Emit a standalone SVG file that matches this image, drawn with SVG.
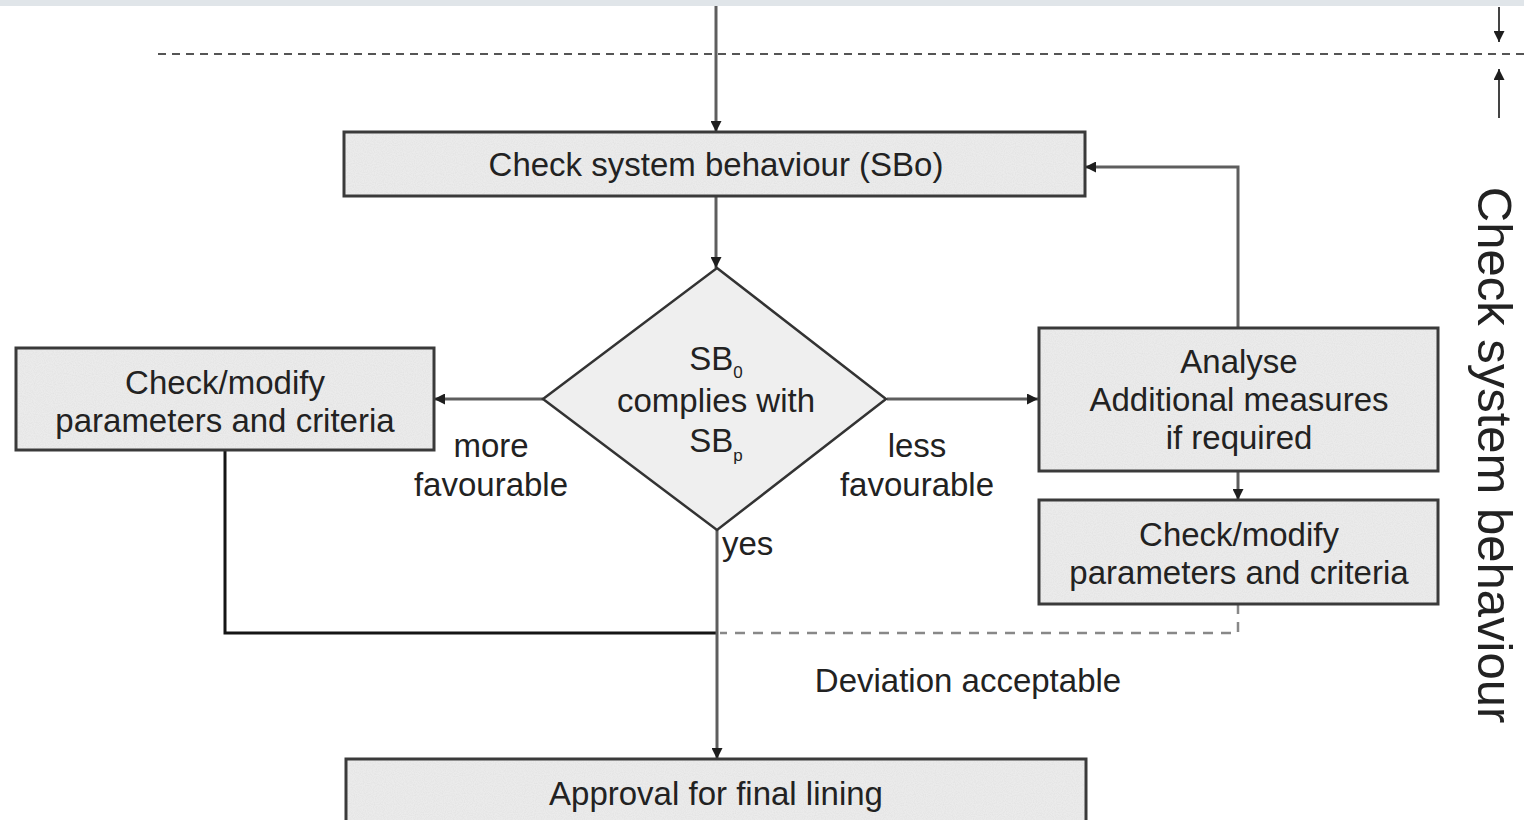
<svg xmlns="http://www.w3.org/2000/svg" width="1524" height="820" viewBox="0 0 1524 820">
  <style>
    .box { fill: #ebebeb; stroke: #3a3a3a; stroke-width: 3; }
    .dia { fill: #efefef; stroke: #333; stroke-width: 2.5; }
    .lbl { font-family: "Liberation Sans", Arial, sans-serif; font-size: 33px; fill: #222; text-anchor: middle; }
    .sub { font-size: 17px; }
    .flow { fill: none; stroke: #5e5e5e; stroke-width: 3; }
    .ret { fill: none; stroke: #151515; stroke-width: 3; }
    .dash { fill: none; stroke: #888; stroke-width: 2.5; stroke-dasharray: 10 8; }
    .sep { fill: none; stroke: #555; stroke-width: 2; stroke-dasharray: 8 6; }
    .thin { fill: none; stroke: #444; stroke-width: 2; }
    .tex { fill: #fff; opacity: 0.85; }
  </style>
  <defs>
    <marker id="head" viewBox="0 0 10 10" refX="10" refY="5" markerWidth="14" markerHeight="11" markerUnits="userSpaceOnUse" orient="auto">
      <path d="M0,0 L10,5 L0,10 Z" fill="#1e1e1e"/>
    </marker>
    <!-- stippled grey fill used inside the boxes -->
    <filter id="grain" x="0" y="0" width="100%" height="100%">
      <feTurbulence type="fractalNoise" baseFrequency="0.9" numOctaves="1" seed="3" result="n"/>
      <feColorMatrix in="n" type="matrix" values="0 0 0 0 0.6  0 0 0 0 0.6  0 0 0 0 0.6  0 0 0 0.6 -0.22" result="g"/>
      <feComposite in="g" in2="SourceGraphic" operator="in"/>
    </filter>
  </defs>

  <rect width="1524" height="820" fill="#fff"/>
  <rect x="0" y="0" width="1524" height="6" fill="#e0e5e9"/>

  <!-- phase boundary and side bracket -->
  <g id="boundary">
    <line class="sep" x1="158" y1="54" x2="1524" y2="54"/>
    <line class="thin" x1="1499" y1="7" x2="1499" y2="42" marker-end="url(#head)"/>
    <line class="thin" x1="1499" y1="118" x2="1499" y2="69" marker-end="url(#head)"/>
    <text class="lbl" style="font-size:49px" transform="translate(1478,455) rotate(90)">Check system behaviour</text>
  </g>

  <!-- connectors -->
  <g id="connectors">
    <line class="flow" x1="716" y1="6" x2="716" y2="132" marker-end="url(#head)"/>
    <line class="flow" x1="716" y1="196" x2="716" y2="268" marker-end="url(#head)"/>
    <line class="flow" x1="543" y1="399" x2="434" y2="399" marker-end="url(#head)"/>
    <line class="flow" x1="887" y1="399" x2="1038" y2="399" marker-end="url(#head)"/>
    <polyline class="flow" points="1238,328 1238,167 1085,167" marker-end="url(#head)"/>
    <line class="flow" x1="1238" y1="471" x2="1238" y2="500" marker-end="url(#head)"/>
    <polyline class="ret" points="225,451 225,633 716,633"/>
    <polyline class="dash" points="1238,604 1238,633 720,633"/>
    <line class="flow" x1="717" y1="530" x2="717" y2="759" marker-end="url(#head)"/>
  </g>

  <g id="check-sbo">
    <rect class="box" x="344" y="132" width="741" height="64"/>
    <rect class="tex" x="346" y="134" width="737" height="60" filter="url(#grain)"/>
    <text class="lbl" x="716" y="176">Check system behaviour (SBo)</text>
  </g>

  <g id="decision">
    <polygon class="dia" points="717,268 886,399 717,530 543,399"/>
    <text class="lbl" x="716" y="370">SB<tspan class="sub" dy="8">0</tspan></text>
    <text class="lbl" x="716" y="412">complies with</text>
    <text class="lbl" x="716" y="452">SB<tspan class="sub" dy="9">p</tspan></text>
  </g>

  <g id="modify-left">
    <rect class="box" x="16" y="348" width="418" height="102"/>
    <rect class="tex" x="18" y="350" width="414" height="98" filter="url(#grain)"/>
    <text class="lbl" x="225" y="394">Check/modify</text>
    <text class="lbl" x="225" y="432">parameters and criteria</text>
  </g>

  <g id="analyse">
    <rect class="box" x="1039" y="328" width="399" height="143"/>
    <rect class="tex" x="1041" y="330" width="395" height="139" filter="url(#grain)"/>
    <text class="lbl" x="1239" y="373">Analyse</text>
    <text class="lbl" x="1239" y="411">Additional measures</text>
    <text class="lbl" x="1239" y="449">if required</text>
  </g>

  <g id="modify-right">
    <rect class="box" x="1039" y="500" width="399" height="104"/>
    <rect class="tex" x="1041" y="502" width="395" height="100" filter="url(#grain)"/>
    <text class="lbl" x="1239" y="546">Check/modify</text>
    <text class="lbl" x="1239" y="584">parameters and criteria</text>
  </g>

  <g id="approval">
    <rect class="box" x="346" y="759" width="740" height="70"/>
    <rect class="tex" x="348" y="761" width="736" height="60" filter="url(#grain)"/>
    <text class="lbl" x="716" y="805">Approval for final lining</text>
  </g>

  <g id="labels">
    <text class="lbl" x="491" y="457">more</text>
    <text class="lbl" x="491" y="496">favourable</text>
    <text class="lbl" x="917" y="457">less</text>
    <text class="lbl" x="917" y="496">favourable</text>
    <text class="lbl" x="722" y="555" style="text-anchor:start">yes</text>
    <text class="lbl" x="968" y="692">Deviation acceptable</text>
  </g>
</svg>
